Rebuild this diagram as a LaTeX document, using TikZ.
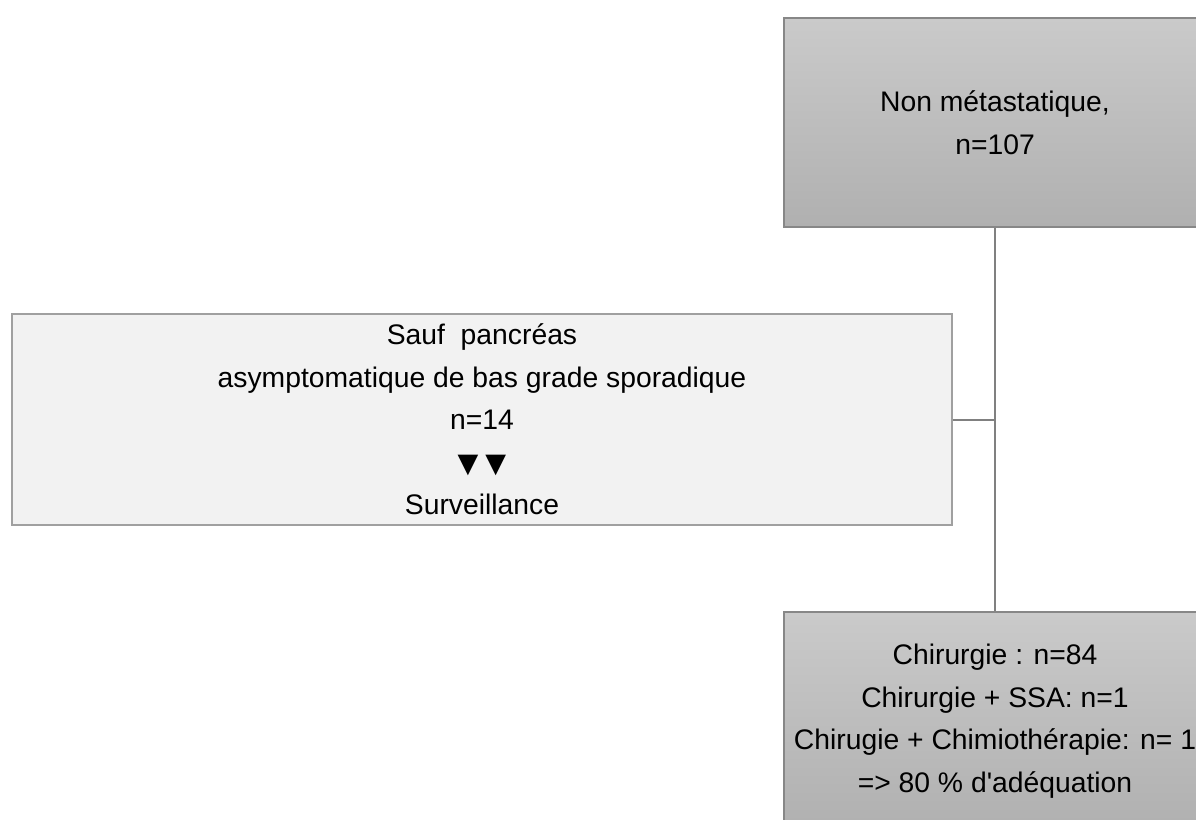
\documentclass[tikz,border=0pt]{standalone}
\usepackage{fontspec}
\setmainfont{Liberation Sans}[Ligatures=TeXOff]
\newfontfamily\symfont{DejaVu Sans}
\definecolor{boxtop}{RGB}{202,202,202}
\definecolor{boxbot}{RGB}{176,176,176}
\definecolor{darkedge}{RGB}{135,135,135}
\definecolor{lightfill}{RGB}{242,242,242}
\definecolor{lightedge}{RGB}{160,160,160}
\definecolor{linkcol}{RGB}{128,128,128}
\tikzset{
  txt/.style={font=\fontsize{28.3}{42.5}\selectfont, align=center, text=black, inner sep=0pt},
  greybox/.style={txt, draw=darkedge, line width=2pt, top color=boxtop, bottom color=boxbot, minimum width=422pt},
  paleblock/.style={txt, draw=lightedge, line width=2pt, fill=lightfill, minimum width=940pt, minimum height=211pt},
  link/.style={draw=linkcol, line width=2pt}
}
\begin{document}
\begin{tikzpicture}[x=1pt,y=-1pt]
\useasboundingbox (0,0) rectangle (1196,819);
\clip (0,0) rectangle (1196,819);
\fill[white] (0,0) rectangle (1196,819);
\node[greybox, minimum height=209pt] (top) at (995,122.5) {Non métastatique,\\n=107};
\node[paleblock] (left) at (482,419.5) {Sauf\ \ pancréas\\asymptomatique de bas grade sporadique\\n=14\\{\symfont\fontsize{27}{42.5}\selectfont ▼\hspace{7pt}▼}\\Surveillance};
\node[greybox, minimum height=218pt] (bot) at (995,721) {Chirurgie : n=84\\Chirurgie + SSA: n=1\\Chirugie + Chimiothérapie: n= 1\\=> 80 \% d'adéquation};
\draw[link] (top.south) -- (bot.north);
\draw[link] (left.east) -- (left.east -| top.south);
\end{tikzpicture}
\end{document}
